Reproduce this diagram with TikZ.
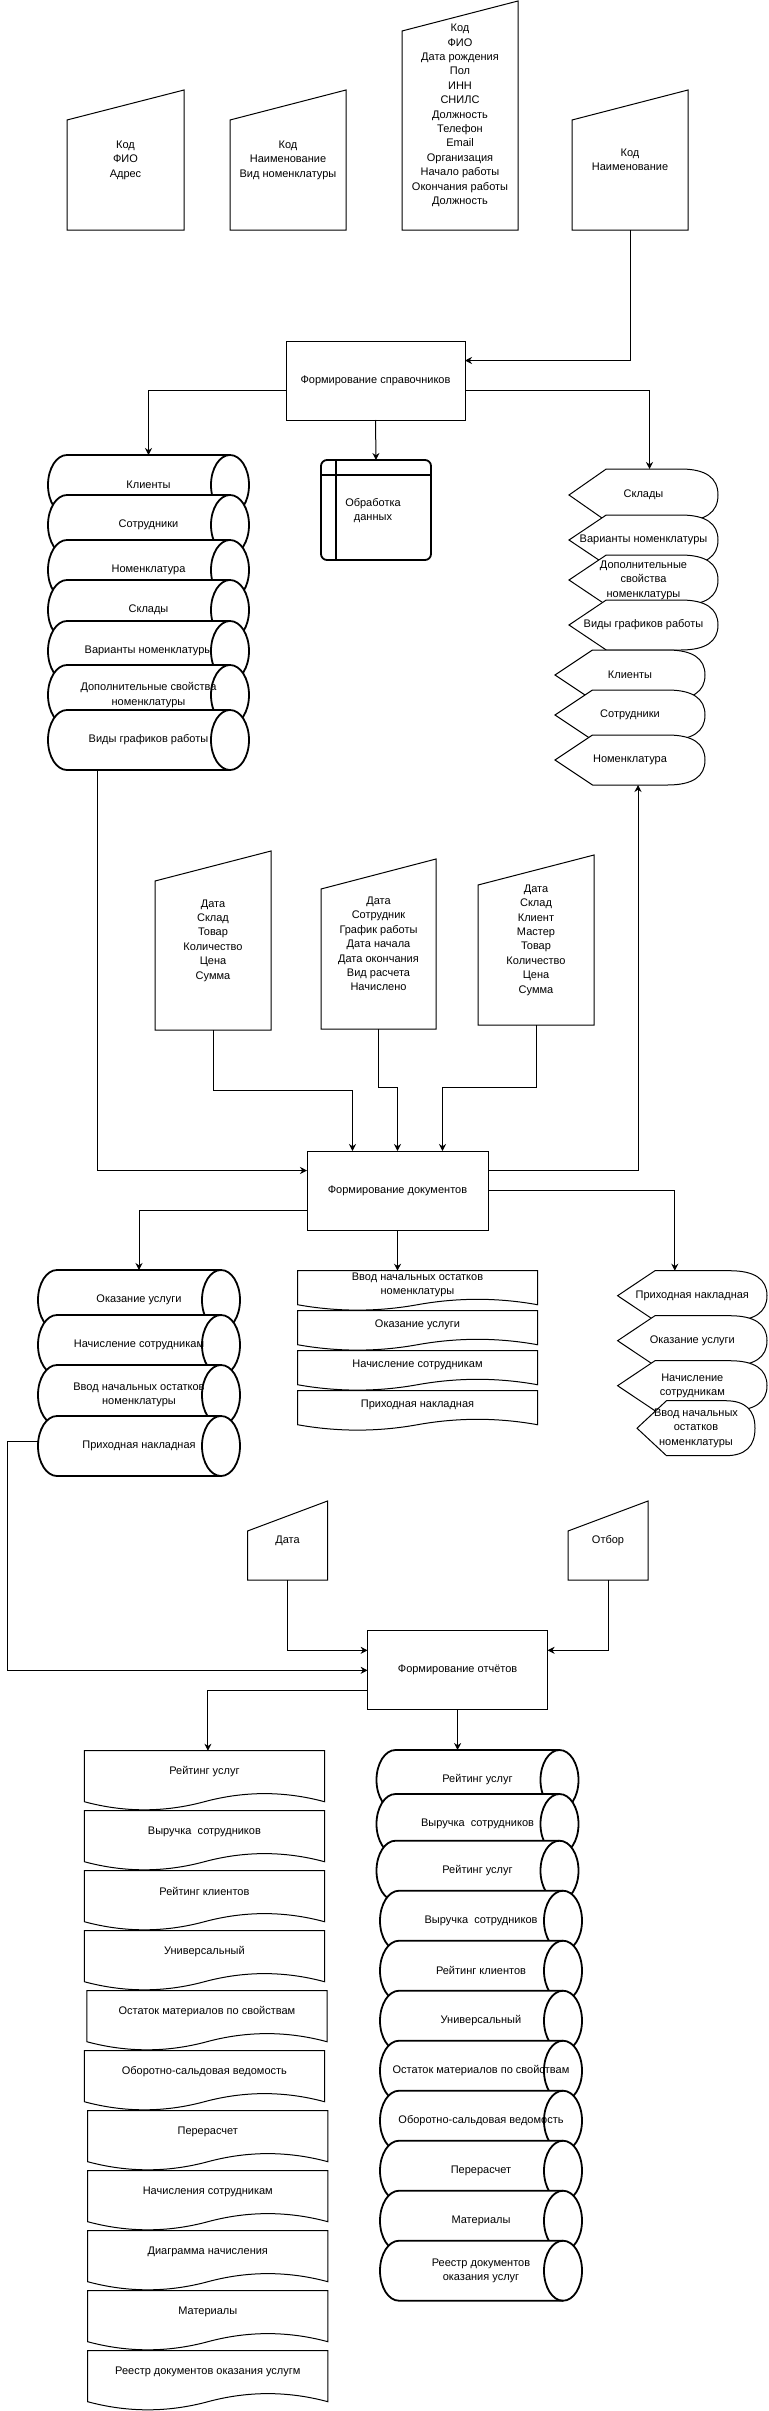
\documentclass[tikz,border=0pt]{standalone}
\usepackage{fontspec}
\setmainfont{Liberation Sans}
\usetikzlibrary{arrows.meta,calc}
\newcommand\fs{\fontsize{11}{14.4}\selectfont}
\tikzset{
 anch/.style={rectangle, inner sep=0pt, outer sep=0pt, draw=none},
 lbl/.style={align=center, font=\fs, inner sep=0pt, text=black},
 thn/.style={line width=1pt, draw=black},
 thk/.style={line width=1.8pt, draw=black},
 proc/.style={rectangle, thn, fill=white, align=center, font=\fs, inner sep=0pt, outer sep=0pt},
 conn/.style={thn, -{Stealth[length=7pt,width=7pt]}},
}
% horizontal cylinder: name, L, T, W, text, H
\newcommand{\hcyl}[6]{%
 \pgfmathsetmacro\qL{#2}\pgfmathsetmacro\qR{#2+#4}%
 \pgfmathsetmacro\qT{-#3}\pgfmathsetmacro\qB{-#3-#6}%
 \pgfmathsetmacro\qY{-#3-#6/2}\pgfmathsetmacro\qX{#2+#4/2}%
 \pgfmathsetmacro\qRy{#6/2}%
 \node[anch, minimum width=#4pt, minimum height=#6pt] (#1) at (\qX,\qY) {};
 \draw[thk, fill=white] ({\qL+19},\qT) -- ({\qR-19},\qT) arc[start angle=90, end angle=-90, x radius=19, y radius=\qRy] -- ({\qL+19},\qB) arc[start angle=270, end angle=90, x radius=19, y radius=\qRy] -- cycle;
 \draw[thk] ({\qR-19},\qT) arc[start angle=90, end angle=270, x radius=19, y radius=\qRy];
 \node[lbl] (#1-t) at (\qX,\qY) {#5};
}
% display shape: name, L, T, W, H, text
\newcommand{\dispshape}[6]{%
 \pgfmathsetmacro\qL{#2}\pgfmathsetmacro\qR{#2+#4}%
 \pgfmathsetmacro\qT{-#3}\pgfmathsetmacro\qB{-#3-#5}%
 \pgfmathsetmacro\qY{-#3-#5/2}\pgfmathsetmacro\qX{#2+#4/2}%
 \pgfmathsetmacro\qD{0.25*#4}\pgfmathsetmacro\qH{#5/6}%
 \node[anch, minimum width=#4pt, minimum height=#5pt] (#1) at (\qX,\qY) {};
 \draw[thn, fill=white] (\qL,\qY) -- ({\qL+\qD},\qT) -- ({\qR-\qD},\qT) .. controls ({\qR-\qD/3},\qT) and (\qR,{\qT-\qH}) .. (\qR,\qY) .. controls (\qR,{\qB+\qH}) and ({\qR-\qD/3},\qB) .. ({\qR-\qD},\qB) -- ({\qL+\qD},\qB) -- cycle;
 \node[lbl] (#1-t) at (\qX,\qY) {#6};
}
% document shape: name, L, T, W, H, text
\newcommand{\docshape}[6]{%
 \pgfmathsetmacro\qL{#2}\pgfmathsetmacro\qR{#2+#4}%
 \pgfmathsetmacro\qT{-#3}\pgfmathsetmacro\qB{-#3-#5}%
 \pgfmathsetmacro\qY{-#3-#5/2}\pgfmathsetmacro\qX{#2+#4/2}%
 \pgfmathsetmacro\qD{0.3*#5}\pgfmathsetmacro\qS{\qB+\qD/2}%
 \pgfmathsetmacro\qU{\qS+0.6*\qD}\pgfmathsetmacro\qW{\qS-0.6*\qD}\pgfmathsetmacro\qA{#4/6}%
 \pgfmathsetmacro\qTy{\qT-(#5-\qD)/2}%
 \node[anch, minimum width=#4pt, minimum height=#5pt] (#1) at (\qX,\qY) {};
 \draw[thn, fill=white] (\qL,\qT) -- (\qR,\qT) -- (\qR,\qS) .. controls ({\qR-\qA},\qU) and ({\qX+\qA},\qU) .. (\qX,\qS) .. controls ({\qX-\qA},\qW) and ({\qL+\qA},\qW) .. (\qL,\qS) -- cycle;
 \node[lbl] (#1-t) at (\qX,\qTy) {#6};
}
% manual input: name, L, T, W, H, text
\newcommand{\mininput}[6]{%
 \pgfmathsetmacro\qY{-#3-#5/2}\pgfmathsetmacro\qX{#2+#4/2}%
 \node[anch, lbl, minimum width=#4pt, minimum height=#5pt] (#1) at (\qX,\qY) {#6};
 \draw[thn] ([yshift=-30pt]#1.north west) -- (#1.north east) -- (#1.south east) -- (#1.south west) -- cycle;
}
\begin{document}
\begin{tikzpicture}[x=1pt,y=1pt]
\useasboundingbox (0,0) rectangle (768,-2411);
\fill[white] (0,0) rectangle (768,-2411);

% ---- top inputs
\mininput{in1}{67}{90}{117}{140}{Код\\ФИО\\Адрес}
\mininput{in2}{230}{90}{116}{140}{Код\\Наименование\\Вид номенклатуры}
\mininput{in3}{402}{1}{116}{229}{Код\\ФИО\\Дата рождения\\Пол\\ИНН\\СНИЛС\\Должность\\Телефон\\Email\\Организация\\Начало работы\\Окончания работы\\Должность}
\mininput{in4}{572}{90}{116}{140}{Код\\Наименование}

\node[proc, minimum width=179pt, minimum height=79pt] (sprav) at (375.5,-380.5) {Формирование справочников};

% ---- internal storage
\node[anch, thk, draw, rounded corners=6pt, minimum width=110pt, minimum height=100pt] (store) at (376,-510) {};
\draw[thk] ([xshift=15pt]store.north west) -- ([xshift=15pt]store.south west);
\draw[thk] ([yshift=-15pt]store.north west) -- ([yshift=-15pt]store.north east);
\node[lbl] (store-t) at (373,-510.5) {Обработка\\данных};

% ---- left cylinders
\hcyl{c1}{48}{455}{201}{Клиенты}{60}
\hcyl{c2}{48}{495}{201}{Сотрудники}{60}
\hcyl{c3}{48}{540}{201}{Номенклатура}{60}
\hcyl{c4}{48}{580}{201}{Склады}{60}
\hcyl{c5}{48}{621}{201}{Варианты номенклатуры}{60}
\hcyl{c6}{48}{665}{201}{Дополнительные свойства\\номенклатуры}{60}
\hcyl{c7}{48}{710}{201}{Виды графиков работы}{60}

% ---- right displays
\dispshape{d1}{569}{469}{149}{52}{Склады}
\dispshape{d2}{569}{515}{149}{50}{Варианты номенклатуры}
\dispshape{d3}{569}{555}{149}{50}{Дополнительные\\свойства\\номенклатуры}
\dispshape{d4}{569}{600}{149}{50}{Виды графиков работы}
\dispshape{d5}{555}{650}{150}{50}{Клиенты}
\dispshape{d6}{555}{690}{150}{50}{Сотрудники}
\dispshape{d7}{555}{735}{150}{50}{Номенклатура}

% ---- middle inputs
\mininput{inA}{155}{851}{116}{179}{Дата\\Склад\\Товар\\Количество\\Цена\\Сумма}
\mininput{inB}{321}{859}{115}{170}{Дата\\Сотрудник\\График работы\\Дата начала\\Дата окончания\\Вид расчета\\Начислено}
\mininput{inC}{478}{855}{116}{170}{Дата\\Склад\\Клиент\\Мастер\\Товар\\Количество\\Цена\\Сумма}

\node[proc, minimum width=181pt, minimum height=79pt] (docs) at (397.5,-1190.5) {Формирование документов};

\hcyl{e1}{38}{1270}{202}{Оказание услуги}{60}
\hcyl{e2}{38}{1315}{202}{Начисление сотрудникам}{60}
\hcyl{e3}{38}{1365}{202}{Ввод начальных остатков\\номенклатуры}{60}
\hcyl{e4}{38}{1416}{202}{Приходная накладная}{60}

\docshape{f1}{297.5}{1270.7}{240}{40}{Ввод начальных остатков\\номенклатуры}
\docshape{f2}{297.5}{1310.7}{240}{40}{Оказание услуги}
\docshape{f3}{297.5}{1350.7}{240}{40}{Начисление сотрудникам}
\docshape{f4}{297.5}{1390.7}{240}{40}{Приходная накладная}

\dispshape{g1}{617.6}{1270.7}{149.4}{50}{Приходная накладная}
\dispshape{g2}{617.6}{1315.7}{149.4}{50}{Оказание услуги}
\dispshape{g3}{617.6}{1360.7}{149.4}{50}{Начисление\\сотрудникам}
\dispshape{g4}{637}{1400.7}{118}{55}{Ввод начальных\\остатков\\номенклатуры}

% ---- report inputs
\mininput{inD}{247.5}{1501}{80}{79}{Дата}
\mininput{inE}{568}{1501}{80}{79}{Отбор}

\node[proc, minimum width=180pt, minimum height=79pt] (rep) at (457.6,-1670.3) {Формирование отчётов};

% ---- report documents
\docshape{h1}{84.3}{1750.7}{240.2}{60}{Рейтинг услуг}
\docshape{h2}{84.3}{1810.7}{240.2}{60}{Выручка\ \ сотрудников}
\docshape{h3}{84.3}{1870.7}{240.2}{60}{Рейтинг клиентов}
\docshape{h4}{84.3}{1930.7}{240.2}{60}{Универсальный}
\docshape{h5}{86.8}{1990.7}{240.2}{60}{Остаток материалов по свойствам}
\docshape{h6}{84.3}{2050.7}{240.2}{60}{Оборотно-сальдовая ведомость}
\docshape{h7}{87.7}{2110.7}{240.2}{60}{Перерасчет}
\docshape{h8}{87.7}{2170.7}{240.2}{60}{Начисления сотрудникам}
\docshape{h9}{87.7}{2230.7}{240.2}{60}{Диаграмма начисления}
\docshape{h10}{87.7}{2290.7}{240.2}{60}{Материалы}
\docshape{h11}{87.7}{2350.7}{240.2}{60}{Реестр документов оказания услугм}

% ---- report cylinders
\hcyl{k1}{376.5}{1750}{202}{Рейтинг услуг}{60}
\hcyl{k2}{376.5}{1794}{202}{Выручка\ \ сотрудников}{60}
\hcyl{k3}{376.5}{1840.7}{202}{Рейтинг услуг}{60}
\hcyl{k4}{380}{1890.7}{202}{Выручка\ \ сотрудников}{60}
\hcyl{k5}{380}{1940.7}{202}{Рейтинг клиентов}{60}
\hcyl{k6}{380}{1990.7}{202}{Универсальный}{60}
\hcyl{k7}{380}{2040.7}{202}{Остаток материалов по свойствам}{60}
\hcyl{k8}{380}{2090.7}{202}{Оборотно-сальдовая ведомость}{60}
\hcyl{k9}{380}{2140.7}{202}{Перерасчет}{60}
\hcyl{k10}{380}{2190.7}{202}{Материалы}{60}
\hcyl{k11}{380}{2240.7}{202}{Реестр документов\\оказания услуг}{60}

% ---- connectors
\draw[conn] (in4.south) |- ([yshift=20pt]sprav.east);
\draw[conn] ([yshift=-10pt]sprav.west) -| (c1.north);
\draw[conn] (sprav.south) -- (store.north);
\draw[conn] ([yshift=-10pt]sprav.east) -| ([xshift=6pt]d1.north);
\draw[conn] ([xshift=-51.5pt]c7.south) |- ([yshift=20pt]docs.west);
\draw[conn] (inA.south) -- ++(0,-60) -| ([xshift=-45pt]docs.north);
\draw[conn] (inB.south) -- ++(0,-58) -| (docs.north);
\draw[conn] (inC.south) -- ++(0,-62) -| ([xshift=45pt]docs.north);
\draw[conn] ([yshift=20pt]docs.east) -| ([xshift=8pt]d7.south);
\draw[conn] ([yshift=-20pt]docs.west) -| (e1.north);
\draw[conn] (docs.south) -- (docs.south |- f1.north);
\draw[conn] (docs.east) -| ([xshift=-17.5pt]g1.north);
\draw[conn] ([yshift=5pt]e4.west) -- ++(-30.6,0) |- (rep.west);
\draw[conn] (inD.south) |- ([yshift=20pt]rep.west);
\draw[conn] (inE.south) |- ([yshift=20pt]rep.east);
\draw[conn] ([yshift=-20pt]rep.west) -| ([xshift=3.5pt]h1.north);
\draw[conn] (rep.south) -- (rep.south |- k1.north);
\end{tikzpicture}
\end{document}
